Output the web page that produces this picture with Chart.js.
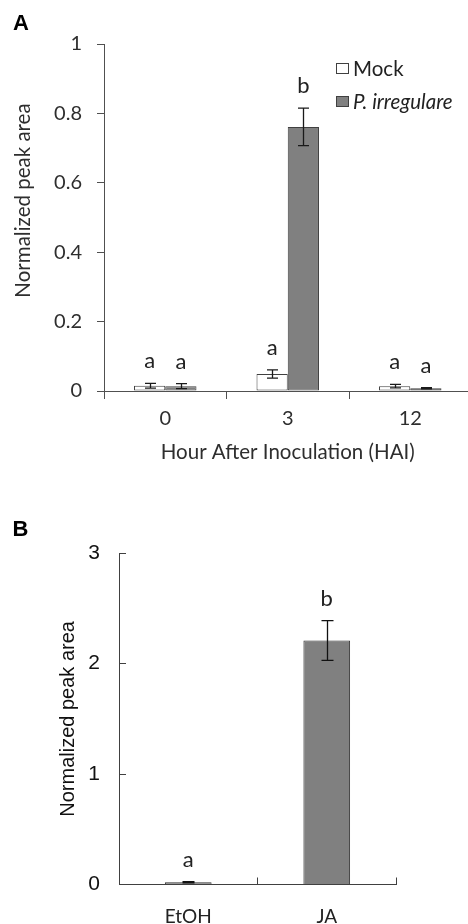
<!DOCTYPE html>
<html>
<head>
<meta charset="utf-8">
<script src="https://cdn.jsdelivr.net/npm/chart.js@4.4.1/dist/chart.umd.min.js"></script>
<style>
  html, body { margin: 0; padding: 0; background: #fff; overflow: hidden; width: 468px; height: 924px; }
  #wrapA { position: absolute; left: 0; top: 0; width: 468px; height: 480px; overflow: hidden; }
  #wrapB { position: absolute; left: 0; top: 480px; width: 468px; height: 444px; overflow: hidden; }
  .panel { position: absolute; font-family: 'Liberation Sans', Arial, sans-serif; font-weight: bold; color: #000; font-size: 22px; line-height: 1; }
</style>
</head>
<body>
<div id="wrapA"><canvas id="chartA" width="480" height="480"></canvas></div>
<div id="wrapB"><canvas id="chartB" width="468" height="444"></canvas></div>
<div class="panel" style="left:13px; top:12px;">A</div>
<div class="panel" style="left:12.5px; top:518px;">B</div>
<script>
// ---------------- Panel A data ----------------
const categoriesA = ['0', '3', '12'];
const seriesNamesA = ['Mock', 'P. irregulare'];
const mockMeans = [0.015, 0.049, 0.014];
const mockErrors = [0.007, 0.012, 0.005];
const mockLetters = ['a', 'a', 'a'];
const pirrMeans = [0.014, 0.761, 0.008];
const pirrErrors = [0.007, 0.054, 0.002];
const pirrLetters = ['a', 'b', 'a'];
const yMinA = 0, yMaxA = 1, yStepA = 0.2;
const yTickLabelsA = ['0', '0.2', '0.4', '0.6', '0.8', '1'];
const xTitleA = 'Hour After Inoculation (HAI)';
const yTitleA = 'Normalized peak area';

// ---------------- Panel B data ----------------
const categoriesB = ['EtOH', 'JA'];
const treatMeans = [0.02, 2.21];
const treatErrors = [0.005, 0.18];
const treatLetters = ['a', 'b'];
const yMinB = 0, yMaxB = 3, yStepB = 1;
const yTickLabelsB = ['0', '1', '2', '3'];
const yTitleB = 'Normalized peak area';

// ---------------- Plugins ----------------
const errorBarPlugin = {
  id: 'errorBars',
  afterDatasetsDraw(chart, args, opts) {
    const ctx = chart.ctx;
    const yScale = chart.scales.y;
    chart.data.datasets.forEach((ds, di) => {
      const meta = chart.getDatasetMeta(di);
      meta.data.forEach((bar, i) => {
        const v = ds.data[i];
        const e = ds.errors ? ds.errors[i] : 0;
        const x = Math.round(bar.x) + 0.5;
        const yT = yScale.getPixelForValue(v + e);
        const yB = yScale.getPixelForValue(Math.max(v - e, 0));
        ctx.save();
        ctx.strokeStyle = opts.color;
        ctx.lineWidth = opts.lineWidth;
        ctx.beginPath();
        ctx.moveTo(x, yT); ctx.lineTo(x, yB);
        ctx.moveTo(x - opts.cap / 2, yT); ctx.lineTo(x + opts.cap / 2, yT);
        ctx.moveTo(x - opts.cap / 2, yB); ctx.lineTo(x + opts.cap / 2, yB);
        ctx.stroke();
        if (ds.letters) {
          ctx.fillStyle = opts.letterColor;
          ctx.font = opts.letterFont;
          ctx.textAlign = 'center';
          ctx.textBaseline = 'alphabetic';
          ctx.fillText(ds.letters[i], bar.x, yT - opts.letterGap);
        }
        ctx.restore();
      });
    });
  }
};

const boxLegendPlugin = {
  id: 'boxLegend',
  afterDraw(chart, args, opts) {
    if (!opts.display) return;
    const ctx = chart.ctx;
    const area = chart.chartArea;
    const x = area.right - opts.offsetRight;
    let y = area.top + opts.offsetY;
    chart.data.datasets.forEach(ds => {
      ctx.save();
      ctx.fillStyle = ds.backgroundColor;
      ctx.fillRect(x, y, opts.boxW, opts.boxH);
      ctx.strokeStyle = ds.borderColor;
      ctx.lineWidth = 1;
      ctx.strokeRect(x + 0.5, y + 0.5, opts.boxW - 1, opts.boxH - 1);
      ctx.fillStyle = opts.color;
      ctx.font = (ds.italicLabel ? 'italic ' : '') + opts.fontSize + 'px ' + opts.family;
      ctx.textAlign = 'left';
      ctx.textBaseline = 'middle';
      ctx.fillText(ds.label, x + opts.boxW + opts.gap, y + opts.boxH / 2 + 0.5);
      ctx.restore();
      y += opts.rowGap;
    });
  }
};

// shifts the y-axis title along the axis (the reference title sits slightly above centre)
const titleShiftPlugin = {
  id: 'titleShift',
  afterLayout(chart, args, opts) {
    const sc = chart.scales.y;
    if (!sc || sc._titleShiftWrapped) return;
    const orig = sc.drawTitle;
    sc.drawTitle = function () {
      const t = this.top, b = this.bottom;
      this.top -= opts.shift; this.bottom -= opts.shift;
      orig.call(this);
      this.top = t; this.bottom = b;
    };
    sc._titleShiftWrapped = true;
  }
};

Chart.defaults.font.family = 'Lato, "Open Sans", sans-serif';

// ---------------- Chart A ----------------
const axisColA = '#505050';
const textColA = '#2e2e2e';
new Chart(document.getElementById('chartA'), {
  type: 'bar',
  data: {
    labels: categoriesA,
    datasets: [
      { label: seriesNamesA[0], data: mockMeans, errors: mockErrors, letters: mockLetters,
        backgroundColor: '#ffffff', borderColor: '#404040', borderWidth: 1, borderSkipped: false,
        categoryPercentage: 0.51, barPercentage: 1.0 },
      { label: seriesNamesA[1], italicLabel: true, data: pirrMeans, errors: pirrErrors, letters: pirrLetters,
        backgroundColor: '#808080', borderColor: '#404040', borderWidth: 1, borderSkipped: false,
        categoryPercentage: 0.51, barPercentage: 1.0 }
    ]
  },
  options: {
    responsive: false,
    animation: false,
    devicePixelRatio: 1,
    layout: { padding: { left: 0, top: 44, right: 8.5, bottom: 0 } },
    plugins: {
      legend: { display: false },
      tooltip: { enabled: false },
      titleShift: { shift: 17 },
      errorBars: { color: '#1a1a1a', lineWidth: 1.3, cap: 11, letterGap: 15, letterColor: '#222', letterFont: '22px Lato, sans-serif' },
      boxLegend: { display: true, offsetRight: 135.5, offsetY: 19, boxW: 13, boxH: 11, gap: 4, rowGap: 33,
                   fontSize: 20.5, family: 'Lato, sans-serif', color: '#222' }
    },
    scales: {
      x: {
        type: 'category',
        offset: true,
        grid: { display: true, drawOnChartArea: false, drawTicks: true, tickLength: 8, offset: true, color: axisColA, lineWidth: 1 },
        border: { display: true, color: axisColA, width: 1 },
        ticks: { color: textColA, font: { size: 20 }, padding: 8, maxRotation: 0 },
        title: { display: true, text: xTitleA, color: textColA, font: { size: 20.5 }, padding: { top: 0, bottom: 15 } },
        afterFit: s => { s.height = 89; }
      },
      y: {
        min: yMinA, max: yMaxA,
        ticks: { stepSize: yStepA, color: textColA, font: { size: 20 }, padding: 15,
                 callback: (value, index) => yTickLabelsA[index] },
        grid: { display: true, drawOnChartArea: false, drawTicks: true, tickLength: 7, color: axisColA, lineWidth: 1 },
        border: { display: true, color: axisColA, width: 1 },
        title: { display: true, text: yTitleA, color: textColA, font: { size: 20.5 }, padding: { top: 11, bottom: 0 } },
        afterFit: s => { s.width = 104; }
      }
    }
  },
  plugins: [errorBarPlugin, boxLegendPlugin, titleShiftPlugin]
});

// ---------------- Chart B ----------------
const axisColB = '#404040';
new Chart(document.getElementById('chartB'), {
  type: 'bar',
  data: {
    labels: categoriesB,
    datasets: [
      { label: 'Treatment', data: treatMeans, errors: treatErrors, letters: treatLetters,
        backgroundColor: '#808080', borderColor: '#333333', borderWidth: 1, borderSkipped: 'start',
        categoryPercentage: 0.337, barPercentage: 1.0 }
    ]
  },
  options: {
    responsive: false,
    animation: false,
    devicePixelRatio: 1,
    layout: { padding: { left: 0, top: 73.3, right: 72, bottom: 0 } },
    plugins: {
      legend: { display: false },
      tooltip: { enabled: false },
      errorBars: { color: '#111', lineWidth: 1.3, cap: 12, letterGap: 15, letterColor: '#222', letterFont: '22px Lato, sans-serif' },
      boxLegend: { display: false }
    },
    scales: {
      x: {
        type: 'category',
        offset: true,
        grid: { display: true, drawOnChartArea: false, drawTicks: true, tickLength: -7, offset: true, color: axisColB, lineWidth: 1 },
        border: { display: true, color: axisColB, width: 1 },
        ticks: { color: '#222', font: { size: 19 }, padding: 28, maxRotation: 0 },
        afterFit: s => { s.height = 39.5; }
      },
      y: {
        min: yMinB, max: yMaxB,
        ticks: { stepSize: yStepB, color: '#111', font: { family: '"Liberation Sans", Arial, sans-serif', size: 21 }, padding: 26,
                 callback: (value, index) => yTickLabelsB[index] },
        grid: { display: true, drawOnChartArea: false, drawTicks: true, tickLength: -7, color: axisColB, lineWidth: 1 },
        border: { display: true, color: axisColB, width: 1 },
        title: { display: true, text: yTitleB, color: '#111', font: { family: '"Liberation Sans", Arial, sans-serif', size: 20 }, padding: { top: 56, bottom: 0 } },
        afterFit: s => { s.width = 119; }
      }
    }
  },
  plugins: [errorBarPlugin, boxLegendPlugin]
});
</script>
</body>
</html>
